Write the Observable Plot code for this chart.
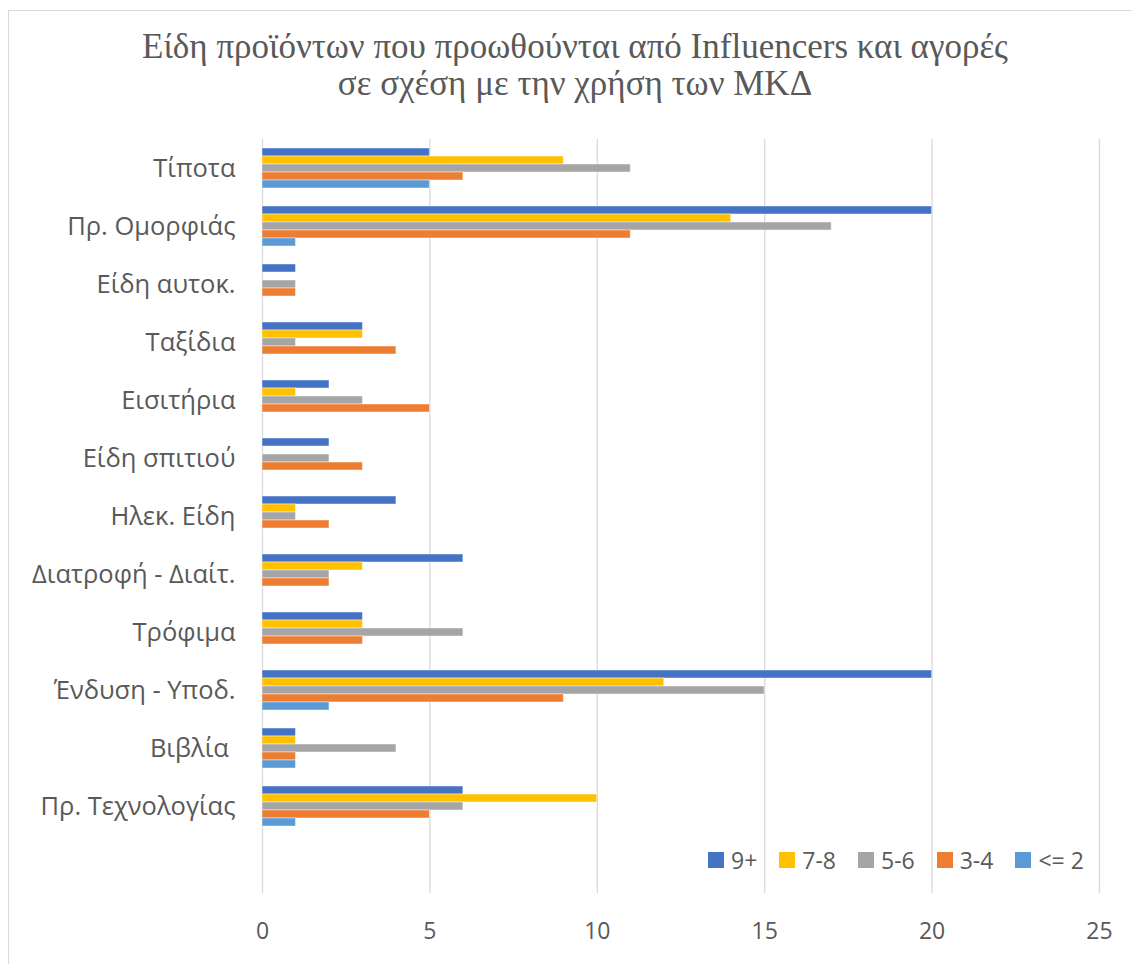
<!DOCTYPE html>
<html>
<head>
<meta charset="utf-8">
<script src="https://cdn.jsdelivr.net/npm/d3@7"></script>
<script src="https://cdn.jsdelivr.net/npm/@observablehq/plot@0.6"></script>
<style>
  body { margin: 0; background: #fff; }
  #chart { position: relative; width: 1132px; height: 964px; overflow: hidden; font-family: "Open Sans", sans-serif; color: #595959; }
  #frame { position: absolute; left: 8px; top: 10px; width: 1200px; height: 1000px; border: 1.5px solid #d9d9d9; box-sizing: border-box; }
  #title { position: absolute; top: 28px; left: 18px; width: 1114px; text-align: center; font-family: "Liberation Serif", serif; font-size: 35px; line-height: 37px; color: #595959; }
  #plot { position: absolute; left: 0; top: 110px; }
  #legend { position: absolute; left: 708px; top: 844px; display: flex; align-items: center; gap: 22px; font-size: 23px; line-height: 32px; }
  #legend .item { display: flex; align-items: center; }
  #legend .sw { width: 16px; height: 16px; margin-right: 7px; }
</style>
</head>
<body>
<div id="chart">
  <div id="frame"></div>
  <div id="title">Είδη προϊόντων που προωθούνται από Influencers και αγορές<br>σε σχέση με την χρήση των ΜΚΔ</div>
  <div id="plot"></div>
  <div id="legend"></div>
</div>
<script>
// Product categories, top to bottom
const categories = ["Τίποτα", "Πρ. Ομορφιάς", "Είδη αυτοκ.", "Ταξίδια", "Εισιτήρια", "Είδη σπιτιού",
  "Ηλεκ. Είδη", "Διατροφή - Διαίτ.", "Τρόφιμα", "Ένδυση - Υποδ.", "Βιβλία ", "Πρ. Τεχνολογίας"];

// Hours of social media use per day (series)
const groups = ["9+", "7-8", "5-6", "3-4", "<= 2"];
const groupColors = ["#4472C4", "#FFC000", "#A5A5A5", "#ED7D31", "#5B9BD5"];

// Counts per category for each series
const values9plus = [5, 20, 1, 3, 2, 2, 4, 6, 3, 20, 1, 6];
const values7to8  = [9, 14, 0, 3, 1, 0, 1, 3, 3, 12, 1, 10];
const values5to6  = [11, 17, 1, 1, 3, 2, 1, 2, 6, 15, 4, 6];
const values3to4  = [6, 11, 1, 4, 5, 3, 2, 2, 3, 9, 1, 5];
const valuesUpTo2 = [5, 1, 0, 0, 0, 0, 0, 0, 0, 2, 1, 1];

const xTicks = [0, 5, 10, 15, 20, 25];

const seriesValues = [values9plus, values7to8, values5to6, values3to4, valuesUpTo2];
const rows = categories.flatMap((category, i) =>
  groups.map((group, j) => ({category, group, value: seriesValues[j][i]}))
).filter(d => d.value > 0);

// An extra empty row at the bottom holds the legend
const rowsDomain = [...categories, ""];
const gridRows = rowsDomain.flatMap(category => xTicks.map(tick => ({category, tick})));

const chart = Plot.plot({
  width: 1132,
  height: 854,
  marginLeft: 262,
  marginRight: 33,
  marginTop: 26,
  marginBottom: 854 - 26 - rowsDomain.length * 58.45,
  style: {fontFamily: "'Open Sans', sans-serif", fontSize: "23px", color: "#595959", background: "transparent", overflow: "visible"},
  x: {domain: [0, 25], axis: null},
  fy: {domain: rowsDomain, padding: 0},
  y: {domain: groups, padding: 0, insetTop: 8, insetBottom: 7.45, axis: null},
  color: {domain: groups, range: groupColors},
  marks: [
    Plot.ruleX(gridRows, {x: "tick", fy: "category", stroke: "#d9d9d9", strokeWidth: 1.3}),
    Plot.barX(rows, {x: "value", y: "group", fy: "category", fill: "group",
      stroke: "#ffffff", strokeOpacity: 0.45, strokeWidth: 1}),
    Plot.text(xTicks, {x: d => d, fy: () => "", text: d => String(d), frameAnchor: "bottom", dy: 45.5,
      fontSize: 23, fill: "#595959"}),
    Plot.axisFy({anchor: "left", tickSize: 0, tickPadding: 27, label: null, fontSize: 25.5, fill: "#595959"})
  ]
});
document.getElementById("plot").appendChild(chart);

// Legend swatches
const legend = d3.select("#legend");
groups.forEach((g, i) => {
  const item = legend.append("div").attr("class", "item");
  item.append("div").attr("class", "sw").style("background", groupColors[i]);
  item.append("span").text(g);
});
</script>
</body>
</html>
